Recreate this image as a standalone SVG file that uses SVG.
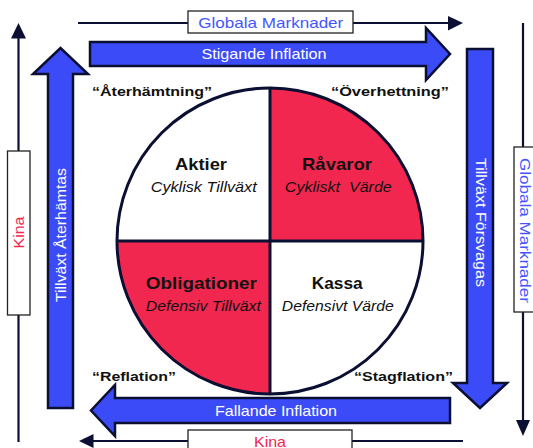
<svg xmlns="http://www.w3.org/2000/svg" width="533" height="448" viewBox="0 0 533 448">
<style>
text{font-family:"Liberation Sans",Arial,sans-serif}
.big{fill:#3C4BF8;stroke:#0B1033;stroke-width:2.5;stroke-linejoin:miter}
.thin{stroke:#0B1033;stroke-width:2.2;fill:none}
.box{fill:#fff;stroke:#222;stroke-width:1.3}
.wt{fill:#fff;font-size:14.5px;text-anchor:middle}
.bl{fill:#4455FF;font-size:14.5px;text-anchor:middle}
.rd{fill:#F2274F;font-size:14.5px;text-anchor:middle}
.q{fill:#111;font-size:13.5px;font-weight:bold}
.h{fill:#111;font-size:17px;font-weight:bold;text-anchor:middle}
.s{fill:#111;font-size:14.5px;font-style:italic;text-anchor:middle}
.head{fill:#0B1033}
</style>
<rect width="533" height="448" fill="#fff"/>
<g id="connectors">
<line class="thin" x1="78" y1="23" x2="450" y2="23"/>
<polygon class="head" points="463,23 448,16 448,30.5"/>
<line class="thin" x1="18.5" y1="442" x2="18.5" y2="36"/>
<polygon class="head" points="18.5,23 11,38.5 26,38.5"/>
<line class="thin" x1="523" y1="23" x2="523" y2="422"/>
<polygon class="head" points="523,436 516,420 530,420"/>
<line class="thin" x1="463" y1="441" x2="91" y2="441"/>
<polygon class="head" points="79,441 93.5,434 93.5,448"/>
</g>
<g id="globala-top">
<rect class="box" x="188" y="11" width="165" height="22"/>
<text class="bl" x="270.8" y="27.5" textLength="145" lengthAdjust="spacingAndGlyphs">Globala Marknader</text>
</g>
<g id="kina-left">
<rect class="box" x="7.5" y="151" width="22.5" height="164"/>
<text class="rd" transform="translate(23.5,232.5) rotate(-90)" textLength="32" lengthAdjust="spacingAndGlyphs">Kina</text>
</g>
<g id="globala-right">
<rect class="box" x="514" y="147" width="25" height="165"/>
<text class="bl" transform="translate(520,230.5) rotate(90)" textLength="145" lengthAdjust="spacingAndGlyphs">Globala Marknader</text>
</g>
<g id="kina-bottom">
<rect class="box" x="188" y="430" width="164" height="25"/>
<text class="rd" x="270" y="447" textLength="32" lengthAdjust="spacingAndGlyphs">Kina</text>
</g>
<g id="stigande">
<polygon class="big" points="90,42 426,42 426,28 450,54 426,80 426,66 90,66"/>
<text class="wt" x="264" y="59" textLength="125" lengthAdjust="spacingAndGlyphs">Stigande Inflation</text>
</g>
<g id="aterhamtas">
<polygon class="big" points="48,408 48,74 33,74 60.5,48 88,74 73,74 73,408"/>
<text class="wt" transform="translate(66,235) rotate(-90)" textLength="134" lengthAdjust="spacingAndGlyphs">Tillväxt Återhämtas</text>
</g>
<g id="forsvagas">
<polygon class="big" points="467,49 493,49 493,383 507,383 480,408 453,383 467,383"/>
<text class="wt" transform="translate(476,222.5) rotate(90)" textLength="129" lengthAdjust="spacingAndGlyphs">Tillväxt Försvagas</text>
</g>
<g id="fallande">
<polygon class="big" points="450,398 115,398 115,385 91,410.5 115,436 115,423 450,423"/>
<text class="wt" x="276" y="416" textLength="122" lengthAdjust="spacingAndGlyphs">Fallande Inflation</text>
</g>
<g id="labels">
<text class="q" x="92" y="96" textLength="120" lengthAdjust="spacingAndGlyphs">“Återhämtning”</text>
<text class="q" x="331" y="96" textLength="118" lengthAdjust="spacingAndGlyphs">“Överhettning”</text>
<text class="q" x="92" y="381" textLength="84" lengthAdjust="spacingAndGlyphs">“Reflation”</text>
<text class="q" x="354" y="381" textLength="99" lengthAdjust="spacingAndGlyphs">“Stagflation”</text>
</g>
<g id="circle">
<path d="M270,241 L270,88 A153,153 0 0 1 423,241 Z" fill="#F2274F"/>
<path d="M270,241 L270,394 A153,153 0 0 1 117,241 Z" fill="#F2274F"/>
<circle cx="270" cy="241" r="153" fill="none" stroke="#0B1033" stroke-width="3"/>
<line x1="270" y1="88" x2="270" y2="394" stroke="#0B1033" stroke-width="3"/>
<line x1="117" y1="241" x2="423" y2="241" stroke="#0B1033" stroke-width="3"/>
</g>
<g id="aktier">
<text class="h" x="201" y="170" textLength="52" lengthAdjust="spacingAndGlyphs">Aktier</text>
<text class="s" x="203.7" y="192" textLength="106" lengthAdjust="spacingAndGlyphs">Cyklisk Tillväxt</text>
</g>
<g id="ravaror">
<text class="h" x="337" y="170" textLength="70" lengthAdjust="spacingAndGlyphs">Råvaror</text>
<text class="s" x="338.3" y="192" textLength="107" lengthAdjust="spacingAndGlyphs" xml:space="preserve">Cykliskt  Värde</text>
</g>
<g id="obligationer">
<text class="h" x="201.3" y="289" textLength="111" lengthAdjust="spacingAndGlyphs">Obligationer</text>
<text class="s" x="203.3" y="311" textLength="115" lengthAdjust="spacingAndGlyphs">Defensiv Tillväxt</text>
</g>
<g id="kassa">
<text class="h" x="337.2" y="289" textLength="51" lengthAdjust="spacingAndGlyphs">Kassa</text>
<text class="s" x="337.8" y="311" textLength="112" lengthAdjust="spacingAndGlyphs">Defensivt Värde</text>
</g>
</svg>
